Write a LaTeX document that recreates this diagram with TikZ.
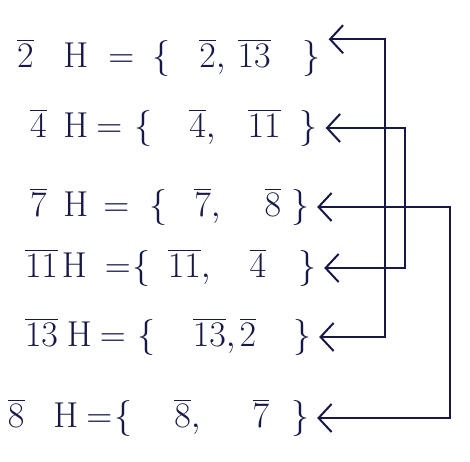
\RequirePackage{fix-cm}
\documentclass[tikz,border=0pt]{standalone}
\usepackage{amsmath}
\usepackage{xcolor}
\usetikzlibrary{arrows.meta, calc}
\definecolor{tinta}{RGB}{22,24,72}
\newcommand{\cls}[1]{\overline{#1}}
\newcommand{\hs}[1]{\hspace{#1pt}}

\begin{document}
\begin{tikzpicture}[x=1pt, y=-1pt,
  fila/.style={anchor=west, inner sep=0pt, outer xsep=8pt, text=tinta,
               font=\fontsize{36}{42}\selectfont},
  enlace/.style={{Straight Barb[length=13pt, width=28pt]}-{Straight Barb[length=13pt, width=28pt]},
                 line width=2pt, draw=tinta}
]
\useasboundingbox (0,0) rectangle (470,461);
% cosets of H
\node[fila] (c2)  at (9,58)   {$\cls{2}\hs{30}\mathrm{H}\hs{20}{=}\hs{18}\{\hs{29}\cls{2}{,}\hs{12}\cls{13}\hs{32}\}$};
\node[fila] (c4)  at (22,128) {$\cls{4}\hs{17}\mathrm{H}\hs{8}{=}\hs{12}\{\hs{37}\cls{4}{,}\hs{32}\cls{11}\hs{19}\}$};
\node[fila] (c7)  at (22,207) {$\cls{7}\hs{17}\mathrm{H}\hs{15}{=}\hs{20}\{\hs{27}\cls{7}{,}\hs{44}\cls{8}\hs{10}\}$};
\node[fila] (c11) at (17,268) {$\cls{11}\hs{4}\mathrm{H}\hs{18}{=}\hs{2}\{\hs{17}\cls{11}{,}\hs{39}\cls{4}\hs{32}\}$};
\node[fila] (c13) at (17,337) {$\cls{13}\hs{9}\mathrm{H}\hs{8}{=}\hs{12}\{\hs{37}\cls{13}{,}\hs{4}\cls{2}\hs{37}\}$};
\node[fila] (c8)  at (0,418)  {$\cls{8}\hs{29}\mathrm{H}\hs{8}{=}\hs{2}\{\hs{42}\cls{8}{,}\hs{52}\cls{7}\hs{22}\}$};

\coordinate (v1) at (385,0);
\coordinate (v2) at (405,0);
\coordinate (v3) at (450,0);

% equal cosets
\draw[enlace] (c2.north east) -- (c2.north east -| v1) |- (c13.east);
\draw[enlace] (c4.east) -- (c4.east -| v2) |- (c11.east);
\draw[enlace] (c7.east) -- (c7.east -| v3) |- (c8.east);
\end{tikzpicture}
\end{document}
